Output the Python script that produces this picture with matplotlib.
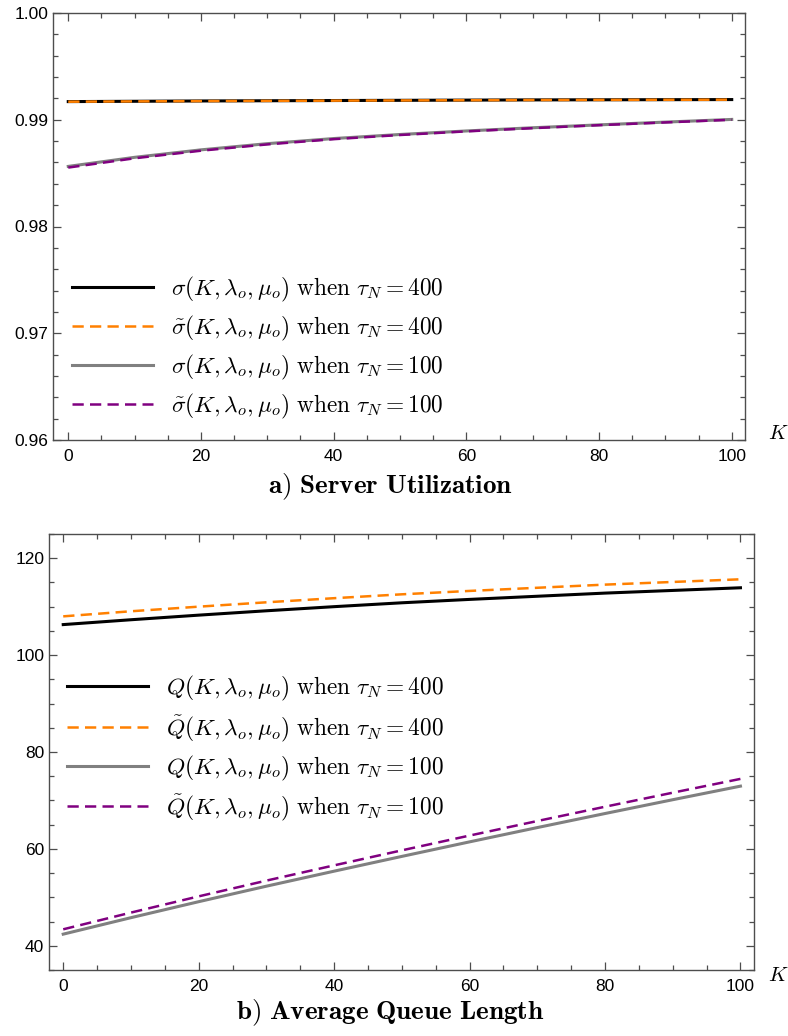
import numpy as np
import matplotlib
matplotlib.use('Agg')
import matplotlib.pyplot as plt
from matplotlib.ticker import MultipleLocator, FormatStrFormatter

plt.rcParams['font.family'] = ['Liberation Sans', 'DejaVu Sans']
plt.rcParams['mathtext.fontset'] = 'cm'

# data
K = [0, 10, 20, 30, 40, 50, 60, 70, 80, 90, 100]

util_400 = [0.99170, 0.99173, 0.99176, 0.99178, 0.99180, 0.99182, 0.99184, 0.99186, 0.99187, 0.99188, 0.99189]
util_400_approx = [0.99169, 0.99172, 0.99175, 0.99177, 0.99179, 0.99181, 0.99183, 0.99185, 0.99186, 0.99187, 0.99188]
util_100 = [0.98563, 0.98648, 0.98718, 0.98776, 0.98824, 0.98862, 0.98895, 0.98925, 0.98952, 0.98978, 0.99003]
util_100_approx = [0.98552, 0.98639, 0.98710, 0.98769, 0.98818, 0.98857, 0.98891, 0.98921, 0.98949, 0.98975, 0.99000]

queue_400 = [106.3, 107.3, 108.25, 109.15, 110.0, 110.8, 111.5, 112.15, 112.8, 113.35, 113.9]
queue_400_approx = [108.0, 109.05, 110.0, 110.9, 111.75, 112.55, 113.25, 113.9, 114.55, 115.1, 115.65]
queue_100 = [42.4, 45.8, 49.1, 52.3, 55.4, 58.45, 61.45, 64.4, 67.3, 70.15, 72.95]
queue_100_approx = [43.4, 46.85, 50.2, 53.45, 56.6, 59.7, 62.75, 65.75, 68.7, 71.6, 74.45]

labels_a = [r'$\sigma(K,\lambda_o,\mu_o)\ \mathrm{when}\ \tau_N=400$',
            r'$\tilde{\sigma}(K,\lambda_o,\mu_o)\ \mathrm{when}\ \tau_N=400$',
            r'$\sigma(K,\lambda_o,\mu_o)\ \mathrm{when}\ \tau_N=100$',
            r'$\tilde{\sigma}(K,\lambda_o,\mu_o)\ \mathrm{when}\ \tau_N=100$']
labels_b = [r'$Q(K,\lambda_o,\mu_o)\ \mathrm{when}\ \tau_N=400$',
            r'$\tilde{Q}(K,\lambda_o,\mu_o)\ \mathrm{when}\ \tau_N=400$',
            r'$Q(K,\lambda_o,\mu_o)\ \mathrm{when}\ \tau_N=100$',
            r'$\tilde{Q}(K,\lambda_o,\mu_o)\ \mathrm{when}\ \tau_N=100$']

ORANGE = '#ff8000'
PURPLE = '#800080'
GRAY = '#808080'
FRAME = '#4d4d4d'
DASH = (4.5, 2.5)
LEG = dict(loc='center left', frameon=False, fontsize=16.8, handlelength=3.47,
           handletextpad=0.77, labelspacing=0.42, borderpad=0, borderaxespad=0)


def style_axes(ax, xlim, ylim, ymajor, yminor, yfmt):
    ax.set_xlim(*xlim)
    ax.set_ylim(*ylim)
    ax.xaxis.set_major_locator(MultipleLocator(20))
    ax.xaxis.set_minor_locator(MultipleLocator(5))
    ax.yaxis.set_major_locator(MultipleLocator(ymajor))
    ax.yaxis.set_minor_locator(MultipleLocator(yminor))
    ax.yaxis.set_major_formatter(FormatStrFormatter(yfmt))
    ax.tick_params(which='both', direction='in', top=True, right=True, color=FRAME, width=0.9)
    ax.tick_params(which='major', length=5.8, labelsize=12.5)
    ax.tick_params(axis='x', which='major', pad=6.5)
    ax.tick_params(axis='y', which='major', pad=3.5)
    ax.tick_params(which='minor', length=3.6)
    for s in ax.spines.values():
        s.set_color(FRAME)
        s.set_linewidth(1.0)


def draw(ax, a, a_t, b, b_t, labels):
    h1, = ax.plot(K, a, color='black', lw=2.2, label=labels[0])
    h2, = ax.plot(K, a_t, color=ORANGE, lw=1.8, dashes=DASH, label=labels[1])
    h3, = ax.plot(K, b, color=GRAY, lw=2.2, label=labels[2])
    h4, = ax.plot(K, b_t, color=PURPLE, lw=1.8, dashes=DASH, label=labels[3])
    return [h1, h2, h3, h4]


fig = plt.figure(figsize=(7.88, 10.36), dpi=100)

# a) server utilization
ax1 = fig.add_axes([53/788, 596/1036, 692/788, 427/1036])
hs = draw(ax1, util_400, util_400_approx, util_100, util_100_approx, labels_a)
style_axes(ax1, (-2.3, 102), (0.96, 1.0), 0.01, 0.002, '%.2f')
ax1.legend(handles=hs, bbox_to_anchor=(0.0275, 0.2155), **LEG)
ax1.annotate('$K$', xy=(1, 0), xycoords='axes fraction', xytext=(23.8, 5),
             textcoords='offset points', ha='center', va='center', fontsize=15)

# b) average queue length
ax2 = fig.add_axes([49/788, 66/1036, 705/788, 436/1036])
hs = draw(ax2, queue_400, queue_400_approx, queue_100, queue_100_approx, labels_b)
style_axes(ax2, (-2.1, 102), (35, 125), 20, 5, '%d')
ax2.legend(handles=hs, bbox_to_anchor=(0.0255, 0.508), **LEG)
ax2.annotate('$K$', xy=(1, 0), xycoords='axes fraction', xytext=(17.3, -4.3),
             textcoords='offset points', ha='center', va='center', fontsize=15)

fig.text(0.495, 1 - 487/1036, r'$\mathbf{a)\ Server\ Utilization}$', ha='center', va='center', fontsize=19.5)
fig.text(0.495, 1 - 1013/1036, r'$\mathbf{b)\ Average\ Queue\ Length}$', ha='center', va='center', fontsize=19.5)

fig.savefig('out.png', dpi=100)
